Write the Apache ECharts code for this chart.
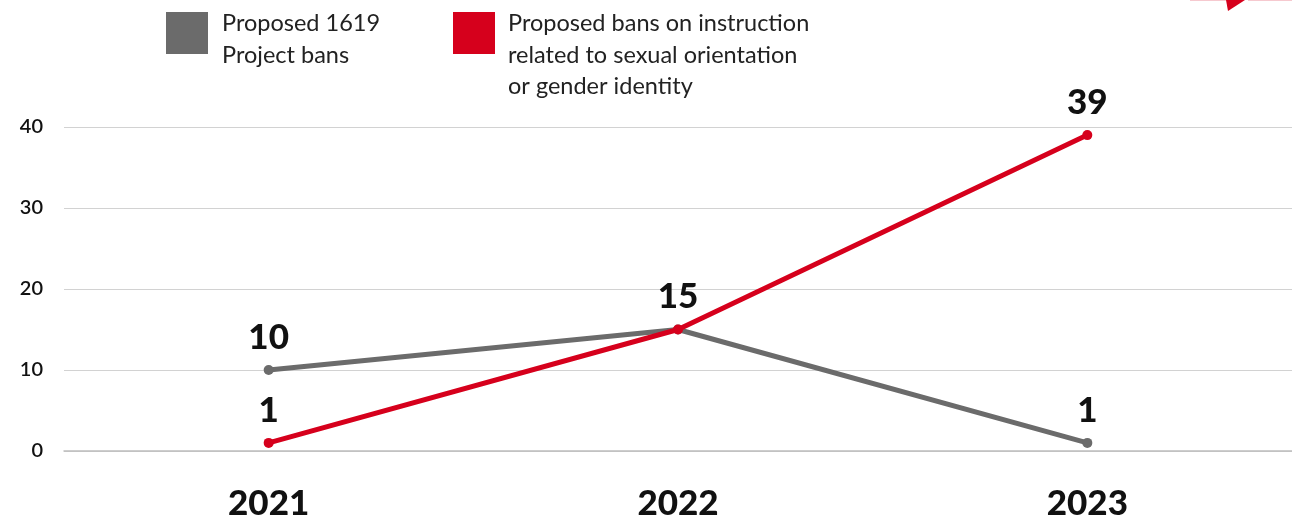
<!DOCTYPE html>
<html>
<head>
<meta charset="utf-8">
<script src="https://cdn.jsdelivr.net/npm/echarts@6/dist/echarts.min.js"></script>
<style>
html,body{margin:0;padding:0;background:#fff;}
#chart{width:1292px;height:521px;}
</style>
</head>
<body>
<div id="chart"></div>
<script>
const years = ['2021', '2022', '2023'];
const project1619 = [10, 15, 1];
const sexualOrientation = [1, 15, 39];
const yTicks = [0, 10, 20, 30, 40];
const legendGray = 'Proposed 1619\nProject bans';
const legendRed = 'Proposed bans on instruction\nrelated to sexual orientation\nor gender identity';

const GRAY = '#6b6b6b';
const RED = '#d6001c';
const FONT = 'Lato, "Noto Sans", sans-serif';

const chart = echarts.init(document.getElementById('chart'));

const labelStyle = {
  show: true, position: 'top', distance: 10,
  fontFamily: FONT, fontWeight: 900, fontSize: 35, color: '#111'
};

chart.setOption({
  animation: false,
  backgroundColor: '#fff',
  grid: { left: 64, right: 0, top: 127, bottom: 70, containLabel: false },
  xAxis: {
    type: 'category',
    data: years,
    boundaryGap: true,
    axisLine: { show: true, lineStyle: { color: '#bdbdbd', width: 1.5 } },
    axisTick: { show: false },
    axisLabel: { margin: 35, fontFamily: FONT, fontWeight: 900, fontSize: 35, color: '#111' }
  },
  yAxis: {
    type: 'value',
    min: yTicks[0], max: yTicks[yTicks.length - 1], interval: 10,
    axisLine: { show: false },
    axisTick: { show: false },
    splitLine: { lineStyle: { color: '#d2d2d2', width: 1 } },
    axisLabel: { margin: 21, fontFamily: FONT, fontWeight: 600, fontSize: 20, color: '#111' }
  },
  series: [
    {
      name: 'Proposed 1619 Project bans',
      type: 'line',
      data: project1619.map((v, i) => ({ value: v, label: { show: i !== 1 } })),
      symbol: 'circle', symbolSize: 10,
      lineStyle: { color: GRAY, width: 5 },
      itemStyle: { color: GRAY },
      label: labelStyle,
      z: 2
    },
    {
      name: 'Proposed bans on instruction related to sexual orientation or gender identity',
      type: 'line',
      data: sexualOrientation,
      symbol: 'circle', symbolSize: 10,
      lineStyle: { color: RED, width: 5 },
      itemStyle: { color: RED },
      label: labelStyle,
      z: 3
    }
  ],
  graphic: [
    { type: 'rect', left: 166, top: 12, shape: { width: 42, height: 42 }, style: { fill: GRAY } },
    { type: 'text', left: 222, top: 8, style: { text: legendGray, fontFamily: FONT, fontSize: 23.5, lineHeight: 31.5, fill: '#222' } },
    { type: 'rect', left: 453, top: 12, shape: { width: 42, height: 42 }, style: { fill: RED } },
    { type: 'text', left: 508, top: 8, style: { text: legendRed, fontFamily: FONT, fontSize: 23.5, lineHeight: 31.5, fill: '#222' } },
    { type: 'polygon', shape: { points: [[1226, 0], [1245, 0], [1228, 11]] }, style: { fill: RED } },
    { type: 'rect', shape: { x: 1190, y: 0, width: 36, height: 1 }, style: { fill: '#f6c9cf' } },
    { type: 'rect', shape: { x: 1248, y: 0, width: 44, height: 1 }, style: { fill: '#f6c9cf' } }
  ]
});
</script>
</body>
</html>
